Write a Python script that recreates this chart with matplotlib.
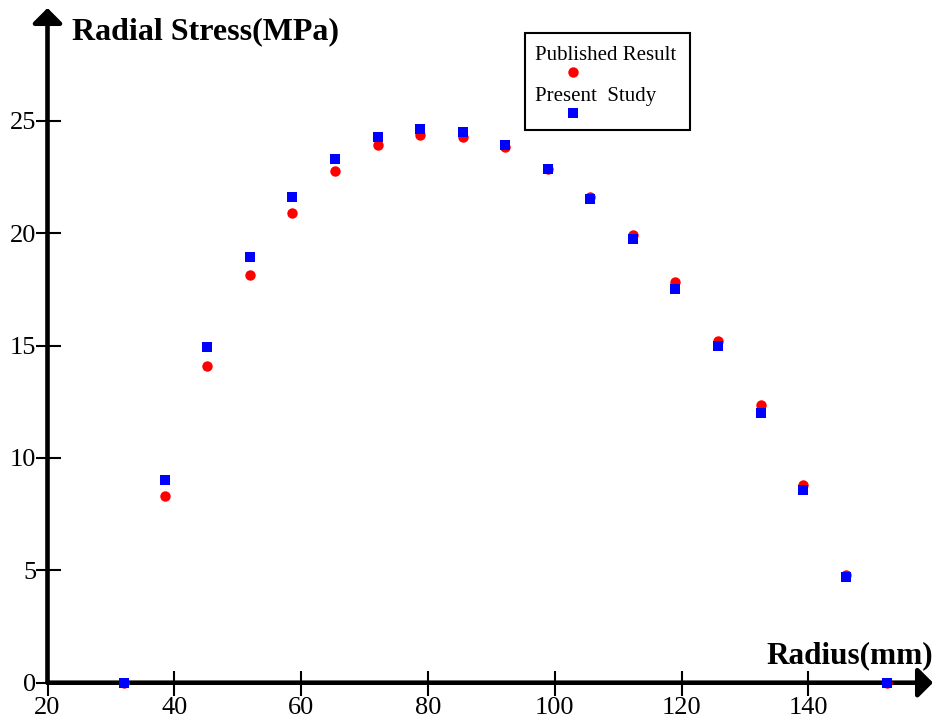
import matplotlib
matplotlib.use("Agg")
import matplotlib.pyplot as plt
from matplotlib.lines import Line2D
from matplotlib.patches import Rectangle

plt.rcParams['font.family'] = ['Liberation Serif', 'DejaVu Serif']

radius = [32.0, 38.5, 45.2, 51.9, 58.6, 65.4, 72.1, 78.8, 85.5, 92.2,
          98.9, 105.6, 112.3, 119.0, 125.8, 132.5, 139.2, 145.9, 152.4]
published = [0.0, 8.32, 14.11, 18.12, 20.89, 22.78, 23.93, 24.38, 24.29, 23.84,
             22.86, 21.62, 19.92, 17.81, 15.18, 12.35, 8.79, 4.79, 0.0]
present = [0.0, 9.03, 14.92, 18.94, 21.61, 23.31, 24.29, 24.64, 24.51, 23.93,
           22.86, 21.53, 19.74, 17.51, 15.00, 11.98, 8.59, 4.68, 0.0]
xticks = [20, 40, 60, 80, 100, 120, 140]
yticks = [0, 5, 10, 15, 20, 25]
series_labels = ["Published Result", "Present  Study"]

W, H = 933, 720
fig = plt.figure(figsize=(W / 100, H / 100), dpi=100)
x0, y0 = 47.5, 682.7
ax = fig.add_axes([x0 / W, (H - y0) / H, 1 - x0 / W, (y0 - 8) / H])
ax.set_xlim(20, 20 + (W - x0) / 6.34)
ax.set_ylim(0, (y0 - 8) / 22.48)
for s in ax.spines.values():
    s.set_visible(False)

ax.plot(radius, published, 'o', color='#ff0000', ms=7.5, mew=0, zorder=3, clip_on=False)
ax.plot(radius, present, 's', color='#0000ff', ms=7.2, mew=0, zorder=4, clip_on=False)

# axes with arrows
arrow = dict(arrowstyle='-|>,head_length=0.45,head_width=0.45', lw=3.3, color='black',
             mutation_scale=20, shrinkA=0, shrinkB=0)
ax.annotate('', xy=(1, 0), xytext=(0, 0), xycoords='axes fraction',
            arrowprops=arrow, zorder=2)
ax.annotate('', xy=(0, 1), xytext=(0, 0), xycoords='axes fraction',
            arrowprops=arrow, zorder=2)

ax.set_xticks(xticks)
ax.set_yticks(yticks)
ax.tick_params(axis='both', direction='inout', length=18, width=1.5, labelsize=19)
ax.tick_params(axis='y', pad=-1)
ax.tick_params(axis='x', pad=1)
ax.set_xticklabels([str(v) for v in xticks])
ax.set_yticklabels([str(v) for v in yticks])

fig.text(72 / W, 1 - 39 / H, "Radial Stress(MPa)", fontsize=23, fontweight='bold',
         ha='left', va='baseline')
fig.text(933 / W, 1 - 663 / H, "Radius(mm)", fontsize=22.5, fontweight='bold',
         ha='right', va='baseline')

# legend box
fig.patches.append(Rectangle((525 / W, 1 - 130 / H), 165 / W, 97 / H,
                             transform=fig.transFigure, fill=False, lw=1.5,
                             edgecolor='black'))
fig.text(535 / W, 1 - 56 / H, series_labels[0], fontsize=15, ha='left', va='center')
fig.text(535 / W, 1 - 96 / H, series_labels[1], fontsize=15, ha='left', va='center')
fig.lines.append(Line2D([573 / W], [1 - 72 / H], transform=fig.transFigure,
                        marker='o', color='#ff0000', ms=7.5, mew=0, ls='none'))
fig.lines.append(Line2D([573 / W], [1 - 113 / H], transform=fig.transFigure,
                        marker='s', color='#0000ff', ms=7.2, mew=0, ls='none'))

fig.savefig("out.png", dpi=100)
